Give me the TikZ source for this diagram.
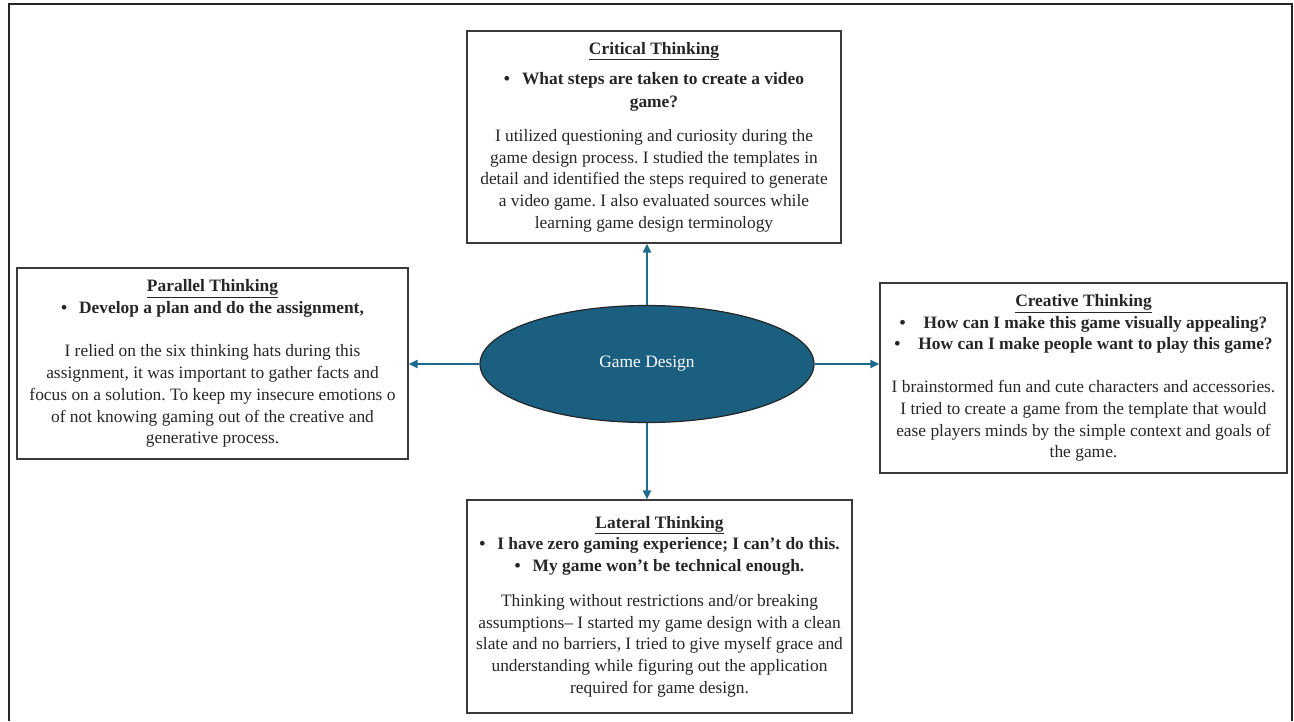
\documentclass[tikz,border=0pt]{standalone}
\usepackage{fontspec}
\setmainfont{Liberation Serif}
\usetikzlibrary{arrows.meta,shapes.geometric}
\definecolor{ellfill}{HTML}{1A5E80}
\definecolor{arrowc}{HTML}{1F6A8F}
\definecolor{boxline}{HTML}{3A3A3A}
\definecolor{bodytxt}{HTML}{262626}
\newcommand\bul{\textbullet\hspace{12pt}}
\newcommand\bulw{\textbullet\hspace{18pt}}
\newcommand\hd[1]{\underline{\textbf{#1}}}
\tikzset{
  txtbox/.style={draw=boxline, line width=1.2pt, align=center, inner sep=0pt,
    text=bodytxt, font=\fontsize{17.4}{21.7}\selectfont\frenchspacing},
  conn/.style={draw=arrowc, line width=2pt, -{Triangle[length=9pt,width=8pt]}},
  hub/.style={ellipse, draw=black!85, line width=1.2pt, fill=ellfill, text=white,
    font=\fontsize{17.4}{21.7}\selectfont, inner sep=0pt},
}
\begin{document}
\begin{tikzpicture}[x=1pt,y=-1pt]
\useasboundingbox (0,0) rectangle (1294,721);
\draw[line width=2.5pt, black!85] (9,721) -- (9,4) -- (1292,4) -- (1292,721);

\node[hub, minimum width=334pt, minimum height=117pt] (ell) at (647,364) {Game Design};

\node[txtbox, minimum width=374pt, minimum height=212pt] (crit) at (654,137) {%
\hd{Critical Thinking}\\[9pt]
\textbf{\bul What steps are taken to create a video}\\[1pt]
\textbf{game?}\\[12pt]
I utilized questioning and curiosity during the\\
game design process. I studied the templates in\\
detail and identified the steps required to generate\\
a video game. I also evaluated sources while\\
learning game design terminology};

\node[txtbox, minimum width=391pt, minimum height=191pt] (par) at (212.5,363.5) {%
\hd{Parallel Thinking}\\
\textbf{\bul Develop a plan and do the assignment,}\\[22pt]
I relied on the six thinking hats during this\\
assignment, it was important to gather facts and\\
focus on a solution. To keep my insecure emotions o\\
of not knowing gaming out of the creative and\\
generative process.};

\node[txtbox, minimum width=407pt, minimum height=190pt] (cre) at (1083.5,378) {%
\hd{Creative Thinking}\\
\textbf{\bulw How can I make this game visually appealing?}\\
\textbf{\bulw How can I make people want to play this game?}\\[21pt]
I brainstormed fun and cute characters and accessories.\\
I tried to create a game from the template that would\\
ease players minds by the simple context and goals of\\
the game.};

\node[txtbox, minimum width=385pt, minimum height=213pt] (lat) at (659.5,606.5) {%
\hd{Lateral Thinking}\\
\textbf{\bul I have zero gaming experience; I can’t do this.}\\
\textbf{\bul My game won’t be technical enough.}\\[13pt]
Thinking without restrictions and/or breaking\\
assumptions– I started my game design with a clean\\
slate and no barriers, I tried to give myself grace and\\
understanding while figuring out the application\\
required for game design.};

\draw[conn] (ell.north) -- (ell.north |- crit.south);
\draw[conn] (ell.south) -- (ell.south |- lat.north);
\draw[conn] (ell.west) -- (ell.west -| par.east);
\draw[conn] (ell.east) -- (ell.east -| cre.west);
\end{tikzpicture}
\end{document}
